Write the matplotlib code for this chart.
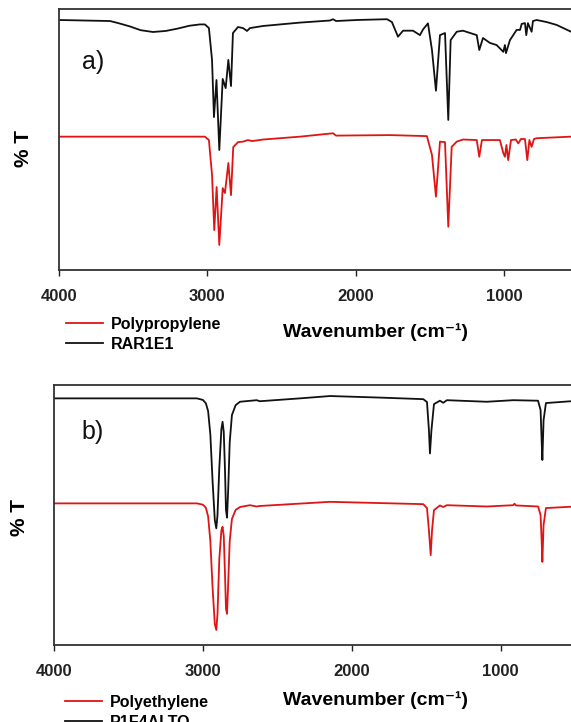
import matplotlib
matplotlib.use("Agg")
import matplotlib.pyplot as plt
from matplotlib.lines import Line2D

plt.rcParams['font.family'] = ['Liberation Sans', 'DejaVu Sans']

# FTIR spectra, wavenumber (cm-1) vs. %T (arbitrary offset scale)
# a) RAR1E1 vs polypropylene reference
rar_wn = [4000, 3656, 3600, 3520, 3450, 3366, 3280, 3200, 3120, 3050, 3016, 2989,
          2968, 2955, 2938, 2919, 2896, 2876, 2858, 2840, 2827, 2793, 2759, 2732,
          2712, 2624, 2375, 2173, 2152, 2132, 1991, 1788, 1755, 1714, 1680, 1613,
          1566, 1545, 1512, 1485, 1458, 1431, 1397, 1375, 1359, 1318, 1276, 1183,
          1166, 1141, 1094, 1049, 1004, 993, 986, 959, 914, 891, 880, 858, 849,
          838, 813, 804, 779, 711, 644, 547, 400]
rar_t = [95.8, 95.4, 94.6, 93.3, 91.9, 91.2, 91.6, 92.5, 93.6, 94.1, 94.1, 92.7,
         80.5, 58.6, 72.8, 46.0, 73.2, 69.7, 80.5, 70.5, 90.8, 93.1, 92.7, 91.6,
         92.7, 93.5, 94.8, 95.6, 96.1, 95.4, 95.8, 96.1, 95.0, 89.4, 91.7, 91.7,
         90.0, 92.2, 94.5, 84.3, 68.7, 90.0, 90.8, 57.5, 88.1, 91.3, 91.7, 90.0,
         84.3, 88.9, 87.0, 86.2, 83.6, 86.2, 83.1, 88.1, 92.0, 92.0, 94.3, 94.6,
         90.0, 94.6, 91.3, 95.4, 95.8, 95.0, 93.9, 91.3, 88.0]

pp_wn = [4000, 3016, 2989, 2968, 2953, 2937, 2919, 2896, 2881, 2858, 2840, 2825,
         2793, 2759, 2726, 2699, 2624, 2375, 2152, 2132, 1768, 1519, 1485, 1458,
         1431, 1397, 1375, 1352, 1318, 1276, 1183, 1166, 1148, 1027, 1004, 993,
         983, 971, 952, 919, 903, 885, 858, 842, 828, 813, 797, 779, 547, 400]
pp_t = [51.1, 51.1, 49.8, 36.4, 15.3, 31.8, 9.6, 31.4, 29.5, 41.0, 28.7, 47.1,
        49.0, 49.2, 49.8, 49.4, 50.0, 51.1, 52.4, 51.5, 51.7, 51.3, 44.1, 28.1,
        49.2, 49.0, 16.6, 47.2, 49.2, 50.0, 49.8, 43.4, 49.8, 49.8, 44.8, 43.4,
        47.9, 42.1, 49.8, 50.0, 48.5, 50.2, 50.2, 42.1, 49.8, 47.2, 50.2, 50.5,
        51.1, 51.1]

# b) P1F4ALTO vs polyethylene reference
p1f_wn = [4000, 3040, 3000, 2980, 2965, 2950, 2935, 2920, 2910, 2902, 2890, 2876,
          2868, 2860, 2852, 2845, 2838, 2830, 2820, 2805, 2780, 2751, 2639, 2617,
          2348, 2146, 1811, 1520, 1495, 1482, 1475, 1465, 1448, 1408, 1386, 1361,
          1094, 915, 749, 732, 725, 720, 712, 696, 528, 400]
p1f_t = [94.9, 94.9, 94.3, 93.0, 90.0, 81.0, 63.0, 48.0, 44.9, 50.0, 68.0, 83.0,
         85.9, 82.0, 68.0, 52.0, 49.0, 60.0, 78.0, 88.5, 92.3, 93.6, 94.2, 93.8,
         94.9, 95.8, 95.2, 94.6, 93.5, 82.7, 73.7, 82.7, 92.7, 94.0, 93.2, 94.2,
         93.6, 94.2, 94.0, 90.4, 78.8, 71.2, 86.5, 93.1, 93.8, 93.8]

pe_wn = [4000, 3040, 3000, 2980, 2965, 2950, 2935, 2920, 2910, 2902, 2890, 2876,
         2868, 2860, 2852, 2845, 2838, 2830, 2820, 2805, 2780, 2751, 2684, 2639,
         2617, 2146, 1520, 1495, 1482, 1470, 1461, 1448, 1408, 1386, 1361, 1094,
         915, 907, 897, 749, 732, 725, 720, 712, 696, 528, 400]
pe_t = [54.5, 54.5, 54.0, 52.8, 49.5, 40.0, 22.0, 8.0, 5.8, 12.0, 33.0, 44.0,
        45.5, 42.0, 28.0, 14.0, 12.0, 24.0, 40.0, 48.5, 52.0, 53.1, 53.8, 53.3,
        53.5, 55.1, 54.2, 52.7, 44.2, 34.6, 44.2, 51.9, 53.7, 53.1, 53.8, 53.3,
        53.8, 54.4, 53.7, 53.3, 50.0, 40.4, 32.0, 46.2, 52.7, 53.2, 53.2]

ticks = [4000, 3000, 2000, 1000]
tick_labels = ['4000', '3000', '2000', '1000']

RED = '#e01414'
BLACK = '#111111'

fig = plt.figure(figsize=(5.71, 7.22), dpi=100)

panels = [
    # axes rect, sample, reference, tag, tag position, legend names,
    # legend x/y, x label y, y label x/y
    ([0.1033, 0.626, 0.935, 0.3615], (rar_wn, rar_t), (pp_wn, pp_t),
     'a)', (0.043, 0.797), 'Polypropylene', 'RAR1E1', 0.1156, 0.561,
     1 - 332 / 722, (0.042, 0.467)),
    ([0.0946, 0.1066, 0.9387, 0.360], (p1f_wn, p1f_t), (pe_wn, pe_t),
     'b)', (0.052, 0.82), 'Polyethylene', 'P1F4ALTO', 0.1138, 0.0375,
     1 - 700 / 722, (0.035, 0.49)),
]

for (rect, sample, ref, tag, tag_xy, ref_name, sample_name,
     leg_x, leg_y, xlab_y, ylab) in panels:
    ax = fig.add_axes(rect)
    ax.plot(sample[0], sample[1], color=BLACK, lw=1.3)
    ax.plot(ref[0], ref[1], color=RED, lw=1.3)
    ax.set_xlim(4000, 400)
    ax.set_ylim(0, 100)
    ax.set_xticks(ticks, tick_labels, fontweight='bold', fontsize=12)
    ax.set_yticks([])
    ax.tick_params(axis='x', direction='out', length=4, width=1, pad=10,
                   colors='#222222')
    for side in ax.spines.values():
        side.set_color('#333333')
        side.set_linewidth(1.3)
    ax.text(tag_xy[0], tag_xy[1], tag, transform=ax.transAxes, fontsize=18,
            ha='left', va='center', color='#111111')

    # y label and x label placed on the figure
    fig.text(ylab[0], rect[1] + rect[3] * ylab[1], '% T', rotation=90,
             fontsize=15, fontweight='bold', ha='center', va='center')
    fig.text(0.657, xlab_y, 'Wavenumber (cm\u207b\u00b9)', fontsize=14,
             fontweight='bold', ha='center', va='center')

    handles = [Line2D([], [], color=RED, lw=1.3),
               Line2D([], [], color=BLACK, lw=1.3)]
    fig.legend(handles, [ref_name, sample_name], loc='upper left',
               bbox_to_anchor=(leg_x, leg_y), frameon=False, borderpad=0,
               borderaxespad=0, handlelength=2.3, handletextpad=0.5,
               labelspacing=0.3, prop={'size': 11.5, 'weight': 'bold'})

fig.savefig('out.png', dpi=100)
